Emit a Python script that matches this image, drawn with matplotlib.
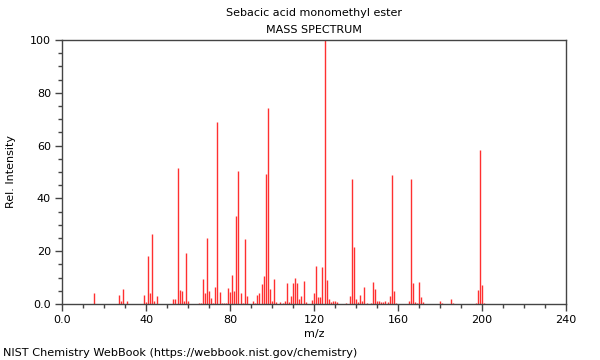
import matplotlib
matplotlib.use("Agg")
import matplotlib.pyplot as plt
from matplotlib.ticker import MultipleLocator, FixedLocator

title = "Sebacic acid monomethyl ester"
subtitle = "MASS SPECTRUM"
footer = "NIST Chemistry WebBook (https://webbook.nist.gov/chemistry)"

mz = [15, 27, 28, 29, 31, 39, 40, 41, 42, 43, 44, 45, 53, 54, 55, 56, 57, 58, 59, 60,
      65, 66, 67, 68, 69, 70, 71, 72, 73, 74, 75, 76, 77, 78, 79, 80, 81, 82, 83, 84,
      85, 86, 87, 88, 91, 92, 93, 94, 95, 96, 97, 98, 99, 100, 101, 102, 104, 105, 106, 107,
      108, 109, 110, 111, 112, 113, 114, 115, 116, 119, 120, 121, 122, 123, 124, 125, 126, 127, 128, 129,
      130, 131, 135, 137, 138, 139, 140, 141, 142, 143, 144, 145, 147, 148, 149, 150, 151, 152, 153, 154,
      155, 156, 157, 158, 159, 165, 166, 167, 168, 169, 170, 171, 172, 180, 181, 185, 186, 197, 198, 199,
      200, 201]
intensity = [4.3, 3.3, 1.0, 5.8, 1.3, 3.5, 0.8, 18.2, 4.3, 26.5, 1.3, 2.9, 1.8, 2.0, 51.5, 5.3, 5.0, 1.3, 19.4, 1.0,
             0.5, 0.5, 9.3, 4.3, 25.0, 5.0, 2.3, 0.5, 6.6, 68.8, 4.5, 0.5, 0.5, 0.5, 6.0, 4.5, 11.0, 5.0, 33.3, 50.3,
             4.3, 0.5, 24.7, 3.0, 1.3, 0.5, 3.5, 4.0, 7.6, 10.6, 49.2, 74.4, 5.6, 1.0, 9.6, 0.8, 0.8, 0.5, 1.3, 8.1,
             0.8, 3.0, 7.8, 9.8, 7.8, 2.0, 3.0, 8.6, 0.8, 1.5, 4.3, 14.4, 2.5, 2.8, 13.9, 100.0, 9.1, 2.0, 0.8, 1.3,
             1.3, 0.8, 0.5, 3.0, 47.3, 21.7, 2.0, 0.8, 3.3, 1.0, 6.3, 0.5, 0.5, 8.3, 5.8, 1.0, 1.3, 0.8, 0.8, 1.3,
             0.8, 3.0, 49.0, 5.0, 0.5, 1.3, 47.5, 8.1, 0.8, 0.5, 8.3, 2.8, 0.8, 1.3, 0.5, 1.8, 0.3, 0.5, 5.3, 58.3,
             7.3, 0.5]

fig = plt.figure(figsize=(6, 3.6), dpi=100)
ax = fig.add_axes([62/600, 1-304/360, 504/600, 264/360])

ax.vlines(mz, 0, intensity, colors="#ff3030", linewidth=1.0)

ax.set_xlim(0, 240)
ax.set_ylim(0, 100)

ax.xaxis.set_major_locator(FixedLocator([0, 40, 80, 120, 160, 200, 240]))
ax.xaxis.set_minor_locator(MultipleLocator(10))
ax.yaxis.set_major_locator(FixedLocator([0, 20, 40, 60, 80, 100]))
ax.yaxis.set_minor_locator(MultipleLocator(5))
ax.set_xticklabels(["0.0", "40", "80", "120", "160", "200", "240"])
ax.set_yticklabels(["0.0", "20", "40", "60", "80", "100"])

ax.tick_params(which="major", direction="out", length=5, width=1, color="#444444", labelsize=8, pad=3)
ax.tick_params(which="minor", direction="out", length=3, width=1, color="#444444")
for s in ax.spines.values():
    s.set_color("#444444")
    s.set_linewidth(1)

ax.set_xlabel("m/z", fontsize=8, labelpad=2.5)
ax.set_ylabel("Rel. Intensity", fontsize=8, labelpad=10)

fig.text(314/600, 1-13/360, title, ha="center", va="center", fontsize=8)
fig.text(314/600, 1-30/360, subtitle, ha="center", va="center", fontsize=8)
fig.text(3/600, 1-353/360, footer, ha="left", va="center", fontsize=8.15)

fig.savefig("out.png", dpi=100)
